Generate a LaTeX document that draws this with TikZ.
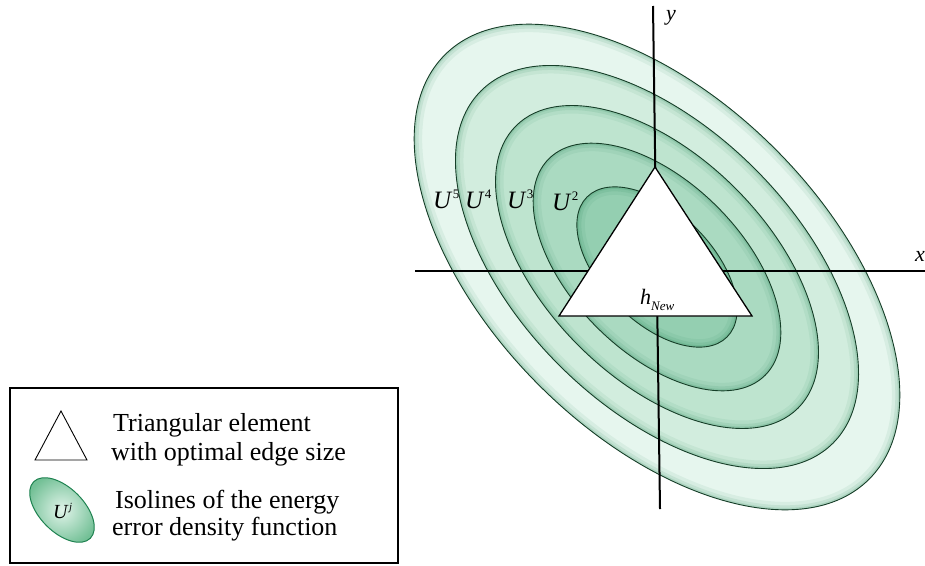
\documentclass[tikz,border=0pt]{standalone}
\usepackage{fontspec}
\setmainfont{Liberation Serif}
\definecolor{ringE}{RGB}{230,246,238}
\definecolor{ringD}{RGB}{210,237,222}
\definecolor{ringC}{RGB}{190,228,207}
\definecolor{ringB}{RGB}{170,218,193}
\definecolor{ringA}{RGB}{148,207,177}
\definecolor{isoglow}{RGB}{30,130,80}
\definecolor{isoedge}{RGB}{22,62,40}
\definecolor{legin}{RGB}{225,244,234}
\definecolor{legout}{RGB}{115,192,150}
\newcommand{\isoring}[2]{%
  \begin{scope}[shift={(657,267)}, rotate=-45, scale=#1]
    \fill[#2] (0,0) ellipse [x radius=300pt, y radius=167pt];
    \begin{scope}
      \clip (0,0) ellipse [x radius=300pt, y radius=167pt];
      \draw[isoglow, opacity=0.07, line width=16pt] (0,0) ellipse [x radius=300pt, y radius=167pt];
      \draw[isoglow, opacity=0.10, line width=9pt] (0,0) ellipse [x radius=300pt, y radius=167pt];
      \draw[isoglow, opacity=0.14, line width=4pt] (0,0) ellipse [x radius=300pt, y radius=167pt];
    \end{scope}
    \draw[isoedge, line width=0.9pt] (0,0) ellipse [x radius=300pt, y radius=167pt];
  \end{scope}}
\newcommand{\supnum}[1]{\kern1.5pt\raisebox{10pt}{\fontsize{13}{13}\selectfont\upshape #1}}
\begin{document}
\begin{tikzpicture}[x=1pt, y=-1pt,
  axisline/.style={line width=2pt, draw=black},
  elem/.style={line width=1.3pt, draw=black, fill=white},
  lbl/.style={font=\fontsize{25}{28}\selectfont\itshape, inner sep=0pt, anchor=base west},
  legtext/.style={font=\fontsize{26}{29}\selectfont, inner sep=0pt, anchor=base west}]
\useasboundingbox (0,0) rectangle (925,565);
\fill[white] (0,0) rectangle (925,565);
% isolines
\isoring{1}{ringE}
\isoring{0.83}{ringD}
\isoring{0.665}{ringC}
\isoring{0.51}{ringB}
\isoring{0.33}{ringA}
% axes
\coordinate (xl) at (415,271);
\coordinate (xr) at (925,271);
\coordinate (yt) at (653,6);
\coordinate (yb) at (660,509);
\draw[axisline] (xl) -- (xr);
\draw[axisline] (yt) -- (yb);
\node[lbl, anchor=center, font=\fontsize{22}{24}\selectfont\itshape] (ylab) at (671,18) {y};
\node[lbl, anchor=center, font=\fontsize{22}{24}\selectfont\itshape] (xlab) at (920,256) {x};
% triangle element
\coordinate (ta) at (655,167);
\coordinate (tl) at (559,316);
\coordinate (tr) at (752,316);
\filldraw[elem] (ta) -- (tl) -- (tr) -- cycle;
\node[lbl, font=\fontsize{22}{24}\selectfont\itshape] (hnew) at (640,304) {h\raisebox{-6pt}{\fontsize{13}{13}\selectfont New}};
% isoline labels
\node[lbl] (u5) at (433,208) {U\supnum{5}};
\node[lbl] (u4) at (465,208) {U\supnum{4}};
\node[lbl] (u3) at (507,208) {U\supnum{3}};
\node[lbl] (u2) at (552,210) {U\supnum{2}};
% legend
\draw[line width=1.3pt] (10,388) rectangle (398,563);
\coordinate (la) at (61,411);
\coordinate (ll) at (35,460);
\coordinate (lr) at (87,460);
\draw[line width=0.9pt] (la) -- (ll) -- (lr) -- cycle;
\begin{scope}[shift={(62,510)}, rotate=-45]
  \shade[inner color=legin, outer color=legout] (0,0) ellipse [x radius=40pt, y radius=22pt];
  \draw[isoglow, line width=1pt] (0,0) ellipse [x radius=40pt, y radius=22pt];
\end{scope}
\node[lbl, font=\fontsize{20}{22}\selectfont\itshape] (uj) at (53,518) {U\kern1.5pt\raisebox{8pt}{\fontsize{11}{11}\selectfont j}};
\node[legtext] (t1) at (113,431) {Triangular element};
\node[legtext] (t2) at (111,460) {with optimal edge size};
\node[legtext] (t3) at (115,508) {Isolines of the energy};
\node[legtext] (t4) at (112,535) {error density function};
\end{tikzpicture}
\end{document}
